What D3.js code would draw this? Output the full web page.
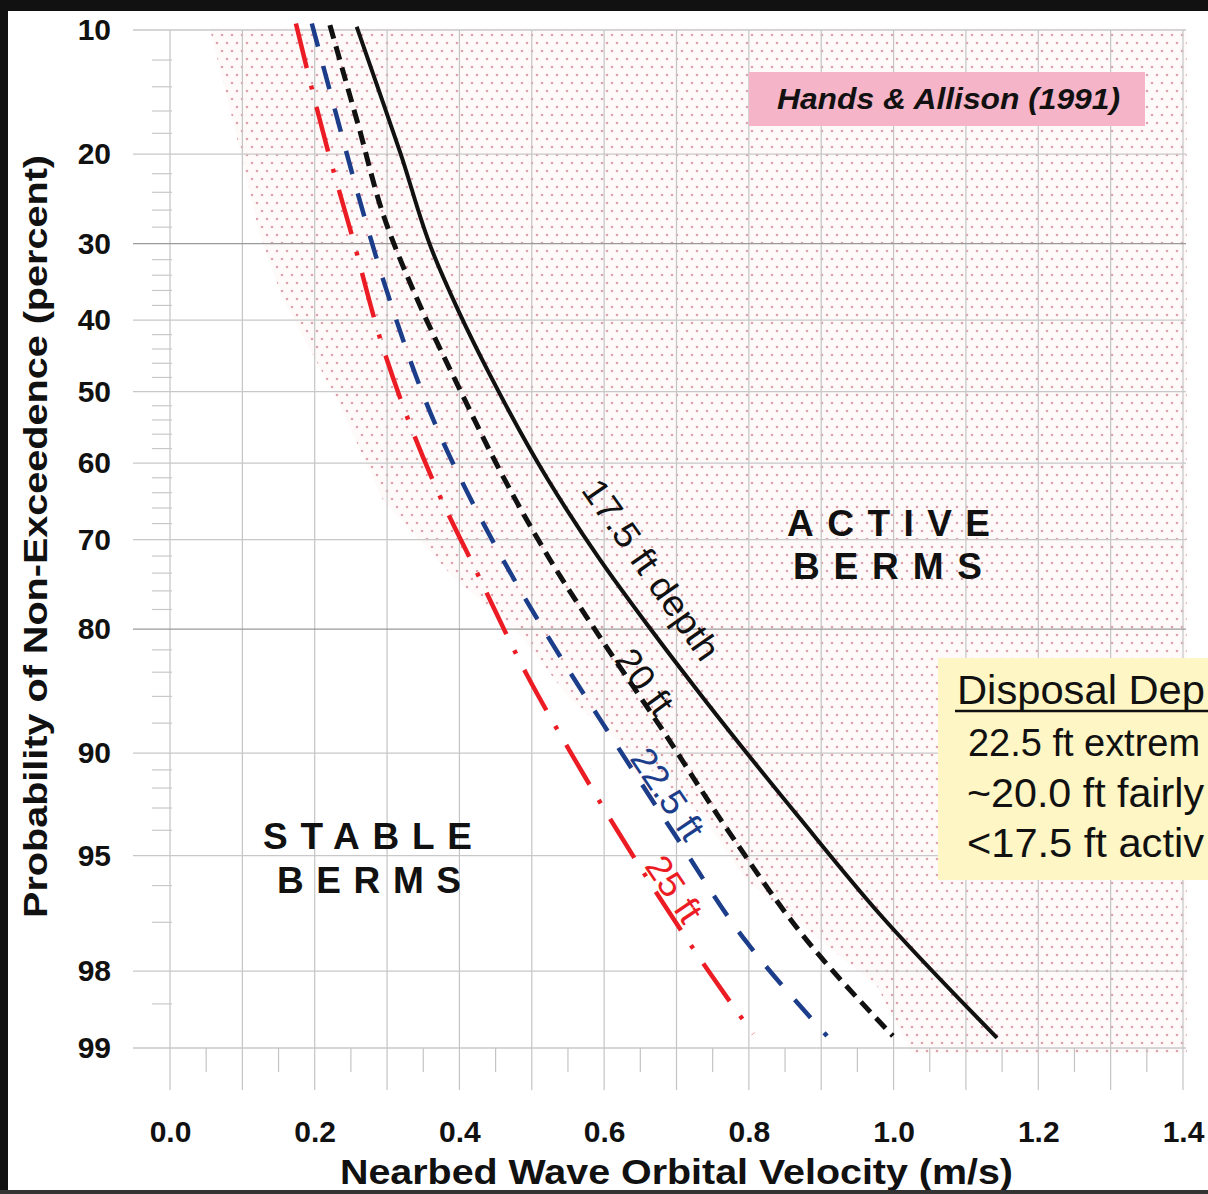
<!DOCTYPE html>
<html><head><meta charset="utf-8">
<script src="https://cdn.jsdelivr.net/npm/d3@7"></script>
<style>
body{margin:0;background:#fff;}
svg{display:block;}
text{font-family:"Liberation Sans",Arial,Helvetica,sans-serif;}
</style>
</head><body>
<svg id="chart" width="1208" height="1194"></svg>
<script>
// ---------------- DATA ----------------
const xTicks = [0, 0.2, 0.4, 0.6, 0.8, 1.0, 1.2, 1.4];
const xTickLabels = ["0.0", "0.2", "0.4", "0.6", "0.8", "1.0", "1.2", "1.4"];
const xGrid = [0, 0.1, 0.2, 0.3, 0.4, 0.5, 0.6, 0.7, 0.8, 0.9, 1.0, 1.1, 1.2, 1.3, 1.4];
const xMinorTicks = [0.05, 0.15, 0.25, 0.35, 0.45, 0.55, 0.65, 0.75, 0.85, 0.95, 1.05, 1.15, 1.25, 1.35];
const yTicks = [10, 20, 30, 40, 50, 60, 70, 80, 90, 95, 98, 99];
const yDarkGrid = [30, 80];
const yMinorTicks = [12, 14, 16, 18, 22, 24, 26, 28, 32, 34, 36, 38, 42, 44, 46, 48, 52, 54, 56, 58,
                     62, 64, 66, 68, 72, 74, 76, 78, 82, 84, 86, 88, 91, 92, 93, 94, 96, 97, 98.5];

// velocity (m/s), probability of non-exceedence (%)
const depth17_5 = [[0.258, 9.8], [0.2875, 14.1], [0.318, 19.8], [0.362, 30.8], [0.398, 38.6], [0.442, 47.6],
                   [0.522, 62.2], [0.594, 72.4], [0.661, 79.7], [0.738, 86.2], [0.871, 93.5], [0.981, 96.8], [1.143, 98.9]];
const depth20 = [[0.221, 9.7], [0.260, 17.2], [0.297, 27.1], [0.339, 36.6], [0.401, 49.8], [0.459, 61.6],
                 [0.525, 72.4], [0.601, 81.5], [0.677, 88.2], [0.771, 94.0], [0.885, 97.5], [0.999, 98.88]];
const depth22_5 = [[0.196, 9.6], [0.228, 15.9], [0.258, 23.7], [0.297, 35.3], [0.373, 56.1], [0.428, 67.1],
                   [0.484, 75.9], [0.542, 82.9], [0.608, 88.8], [0.698, 94.2], [0.797, 97.45], [0.908, 98.88]];
const depth25 = [[0.174, 9.6], [0.218, 19.6], [0.253, 29.5], [0.294, 43.7], [0.369, 63.6], [0.424, 73.9],
                 [0.493, 84.2], [0.553, 89.9], [0.618, 94.0], [0.750, 98.1], [0.806, 98.86]];
// left edge of the stippled "active" zone
const activeEdge = [[0.055, 9.9], [0.090, 17.7], [0.122, 28.3], [0.156, 37.2], [0.231, 51.1], [0.294, 64.9],
                    [0.394, 74.7], [0.474, 79.7], [0.553, 86.2], [0.650, 90.4], [0.739, 93.5], [0.795, 95.8],
                    [0.861, 96.9], [0.977, 98.24], [1.025, 99.05]];
const activeRight = 1.405;

const seriesLabels = ["17.5 ft depth", "20 ft", "22.5 ft", "25 ft"];
const disposalTitle = "Disposal Dep";
const disposalLines = ["22.5 ft extrem", "~20.0 ft fairly", "<17.5 ft activ"];

// ---------------- HELPERS ----------------
function probit(p){
  const a=[-3.969683028665376e+01,2.209460984245205e+02,-2.759285104469687e+02,1.383577518672690e+02,-3.066479806614716e+01,2.506628277459239e+00];
  const b=[-5.447609879822406e+01,1.615858368580409e+02,-1.556989798598866e+02,6.680131188771972e+01,-1.328068155288572e+01];
  const c=[-7.784894002430293e-03,-3.223964580411365e-01,-2.400758277161838e+00,-2.549732539343734e+00,4.374664141464968e+00,2.938163982698783e+00];
  const d=[7.784695709041462e-03,3.224671290700398e-01,2.445134137142996e+00,3.754408661907416e+00];
  const pl=0.02425, ph=1-pl; let q,r;
  if(p<pl){q=Math.sqrt(-2*Math.log(p));return (((((c[0]*q+c[1])*q+c[2])*q+c[3])*q+c[4])*q+c[5])/((((d[0]*q+d[1])*q+d[2])*q+d[3])*q+1);}
  if(p<=ph){q=p-0.5;r=q*q;return (((((a[0]*r+a[1])*r+a[2])*r+a[3])*r+a[4])*r+a[5])*q/(((((b[0]*r+b[1])*r+b[2])*r+b[3])*r+b[4])*r+1);}
  q=Math.sqrt(-2*Math.log(1-p));return -(((((c[0]*q+c[1])*q+c[2])*q+c[3])*q+c[4])*q+c[5])/((((d[0]*q+d[1])*q+d[2])*q+d[3])*q+1);
}

const svg = d3.select("#chart");
const x = d3.scaleLinear().domain([0, 1.4]).range([170, 1183]);
const yz = d3.scaleLinear().domain([probit(0.10), probit(0.99)]).range([30, 1048]);
const y = p => yz(probit(p / 100));

// background
svg.append("rect").attr("width", 1208).attr("height", 1194).attr("fill", "#fff");

// stipple pattern
const defs = svg.append("defs");
const pat = defs.append("pattern").attr("id", "stip").attr("patternUnits", "userSpaceOnUse")
  .attr("width", 10).attr("height", 16);
pat.append("circle").attr("cx", 2).attr("cy", 3).attr("r", 1.3).attr("fill", "#dea2ab");
pat.append("circle").attr("cx", 7).attr("cy", 11).attr("r", 1.3).attr("fill", "#dea2ab");

const zonePts = activeEdge.concat([[activeRight, 99.05], [activeRight, 9.9]]);
const zoneLine = d3.line().x(d => x(d[0])).y(d => y(d[1])).curve(d3.curveLinear);
svg.append("path").attr("d", zoneLine(zonePts) + "Z").attr("fill", "#fefafa");
svg.append("path").attr("d", zoneLine(zonePts) + "Z").attr("fill", "url(#stip)");

// gridlines
const grid = svg.append("g");
grid.selectAll(".vg").data(xGrid).join("line")
  .attr("x1", d => x(d)).attr("x2", d => x(d))
  .attr("y1", y(10)).attr("y2", 1090)
  .attr("stroke", "#c4c4c4").attr("stroke-width", 1.2);
grid.selectAll(".hg").data(yTicks).join("line")
  .attr("x1", 133).attr("x2", 1186)
  .attr("y1", d => y(d)).attr("y2", d => y(d))
  .attr("stroke", d => yDarkGrid.includes(d) ? "#9a9a9a" : "#c8c8c8").attr("stroke-width", 1.3);
grid.selectAll(".hm").data(yMinorTicks).join("line")
  .attr("x1", 152).attr("x2", 172)
  .attr("y1", d => y(d)).attr("y2", d => y(d))
  .attr("stroke", "#c8c8c8").attr("stroke-width", 1.2);
grid.selectAll(".xm").data(xMinorTicks).join("line")
  .attr("x1", d => x(d)).attr("x2", d => x(d))
  .attr("y1", y(99)).attr("y2", 1072)
  .attr("stroke", "#c4c4c4").attr("stroke-width", 1.2);

// curves
const line = d3.line().x(d => x(d[0])).y(d => y(d[1])).curve(d3.curveMonotoneY);
const series = [
  {data: depth25,   color: "#ec1c24", w: 4.5, dash: "46,18,4,18"},
  {data: depth22_5, color: "#1c3d8a", w: 4.5, dash: "24,20"},
  {data: depth20,   color: "#111",    w: 5,   dash: "14,8"},
  {data: depth17_5, color: "#111",    w: 4,   dash: null}
];
svg.append("g").selectAll("path").data(series).join("path")
  .attr("d", d => line(d.data)).attr("fill", "none")
  .attr("stroke", d => d.color).attr("stroke-width", d => d.w)
  .attr("stroke-dasharray", d => d.dash);

// curve labels
const curveLabels = [
  {t: seriesLabels[0], v: 0.665, p: 73.6, rot: 55, color: "#111", len: 212},
  {t: seriesLabels[1], v: 0.656, p: 84.8, rot: 54, color: "#111", len: 72},
  {t: seriesLabels[2], v: 0.688, p: 92.3, rot: 56, color: "#1c3d8a", len: 102},
  {t: seriesLabels[3], v: 0.697, p: 96.1, rot: 56, color: "#ec1c24", len: 72}
];
svg.append("g").selectAll("text").data(curveLabels).join("text")
  .attr("transform", d => `translate(${x(d.v)},${y(d.p)}) rotate(${d.rot})`)
  .attr("text-anchor", "middle").attr("dominant-baseline", "central")
  .attr("font-size", 36).attr("textLength", d => d.len).attr("lengthAdjust", "spacingAndGlyphs")
  .attr("fill", d => d.color).text(d => d.t);

// axes
const xAxis = svg.append("g").attr("transform", "translate(0,1121)")
  .call(d3.axisBottom(x).tickValues(xTicks).tickFormat((d, i) => xTickLabels[i]).tickSize(0).tickPadding(0));
xAxis.select(".domain").remove();
xAxis.selectAll("text").attr("font-size", 30).attr("font-weight", "bold").attr("fill", "#111")
  .attr("font-family", "'Liberation Sans', Arial, sans-serif");

const yAxis = svg.append("g").attr("transform", "translate(111,0)")
  .call(d3.axisLeft(yz).tickValues(yTicks.map(p => probit(p / 100))).tickFormat((d, i) => yTicks[i]).tickSize(0).tickPadding(0));
yAxis.select(".domain").remove();
yAxis.selectAll("text").attr("font-size", 30).attr("font-weight", "bold").attr("fill", "#111")
  .attr("font-family", "'Liberation Sans', Arial, sans-serif");

// axis titles
svg.append("text").attr("x", 340).attr("y", 1184).attr("font-size", 35).attr("font-weight", "bold")
  .attr("textLength", 673).attr("lengthAdjust", "spacingAndGlyphs").attr("fill", "#111")
  .text("Nearbed Wave Orbital Velocity (m/s)");
svg.append("text").attr("transform", "translate(47,918) rotate(-90)").attr("font-size", 33).attr("font-weight", "bold")
  .attr("textLength", 763).attr("lengthAdjust", "spacingAndGlyphs").attr("fill", "#111")
  .text("Probability of Non-Exceedence (percent)");

// zone labels
function spaced(txt, x0, yb, len){
  svg.append("text").attr("x", x0).attr("y", yb).attr("font-size", 37).attr("font-weight", "bold")
    .attr("textLength", len).attr("lengthAdjust", "spacing").attr("fill", "#111").text(txt);
}
spaced("ACTIVE", 787, 536, 203);
spaced("BERMS", 793, 579, 189);
spaced("STABLE", 263, 849, 209);
spaced("BERMS", 277, 893, 184);

// Hands & Allison box
svg.append("rect").attr("x", 749).attr("y", 72).attr("width", 396).attr("height", 54).attr("fill", "#f5b4c7");
svg.append("text").attr("x", 777).attr("y", 109).attr("font-size", 29).attr("font-weight", "bold")
  .attr("font-style", "italic").attr("textLength", 343).attr("lengthAdjust", "spacingAndGlyphs")
  .attr("fill", "#111").text("Hands & Allison (1991)");

// Disposal depth box
svg.append("rect").attr("x", 938).attr("y", 658).attr("width", 270).attr("height", 222).attr("fill", "#fef6c4");
svg.append("text").attr("x", 957).attr("y", 704).attr("font-size", 41).attr("fill", "#111")
  .attr("textLength", 248).attr("lengthAdjust", "spacingAndGlyphs").text(disposalTitle);
svg.append("line").attr("x1", 955).attr("x2", 1208).attr("y1", 711).attr("y2", 711).attr("stroke", "#111").attr("stroke-width", 2.5);
svg.append("g").selectAll("text").data(disposalLines).join("text")
  .attr("x", (d, i) => i === 0 ? 968 : 967).attr("y", (d, i) => 756 + i * 50.5)
  .attr("font-size", (d, i) => i === 0 ? 38 : 40)
  .attr("textLength", (d, i) => i === 0 ? 232 : 237).attr("lengthAdjust", "spacingAndGlyphs")
  .attr("fill", "#111").text(d => d);

// frame
svg.append("rect").attr("x", 0).attr("y", 0).attr("width", 1208).attr("height", 11).attr("fill", "#111");
svg.append("rect").attr("x", 0).attr("y", 0).attr("width", 8).attr("height", 1194).attr("fill", "#111");
svg.append("rect").attr("x", 0).attr("y", 1190).attr("width", 1208).attr("height", 4).attr("fill", "#333");
</script>
</body></html>
